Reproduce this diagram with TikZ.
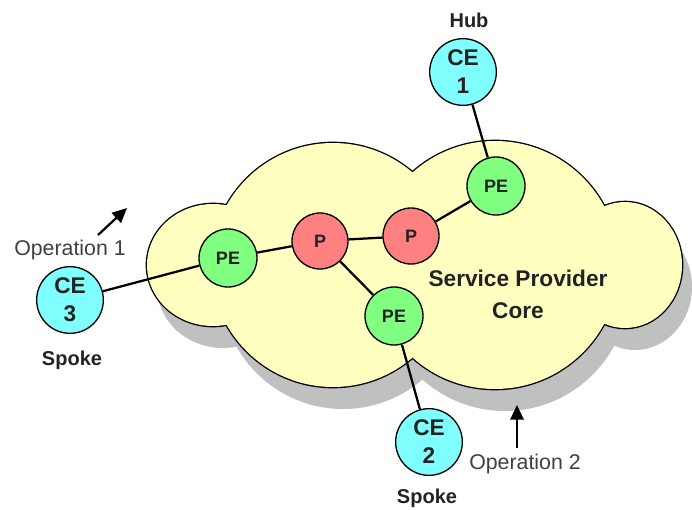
\documentclass[tikz,border=0pt]{standalone}
\usepackage{fontspec}
\setmainfont{Liberation Sans}
\usetikzlibrary{arrows.meta}
\definecolor{cloudfill}{HTML}{FFFFC0}
\definecolor{shadowgray}{HTML}{C0C0C0}
\definecolor{cefill}{HTML}{80FFFF}
\definecolor{pefill}{HTML}{80FF80}
\definecolor{pfill}{HTML}{FF8080}
\definecolor{txt}{HTML}{222222}
\definecolor{opgray}{HTML}{404040}
\newcommand\cloudshapes{(213,265) ellipse [x radius=49.5pt, y radius=45.75pt]
  (333,265) circle [radius=91.5pt]
  (495,265) circle [radius=93pt]
  (625,265) ellipse [x radius=42.75pt, y radius=47.25pt]}
\begin{document}
\begin{tikzpicture}[x=0.75pt,y=-0.75pt,
  dev/.style={circle, draw=black, line width=1pt, inner sep=0pt, text=txt,
    font=\bfseries\fontsize{13.5}{15}\selectfont},
  ce/.style={dev, fill=cefill, minimum size=50pt, align=center,
    font=\bfseries\fontsize{17}{21}\selectfont},
  pe/.style={dev, fill=pefill, minimum size=43.5pt},
  pr/.style={dev, fill=pfill, minimum size=42pt},
  link/.style={line width=1.7pt},
  lbl/.style={text=txt, font=\bfseries\fontsize{15}{18}\selectfont},
  core/.style={text=txt, align=center, font=\bfseries\fontsize{17}{24}\selectfont},
  op/.style={text=opgray, font=\fontsize{16}{19}\selectfont},
  oparrow/.style={line width=1.7pt, -{Triangle[length=11pt,width=10pt]}}
]
\useasboundingbox (0,0) rectangle (692,510);
% cloud with shadow
\fill[shadowgray, shift={(10,22)}] \cloudshapes;
\draw[line width=2pt, fill=cloudfill] \cloudshapes;
\fill[cloudfill] \cloudshapes;
\node[core] (spc) at (518,294) {Service Provider\\Core};
% devices
\node[ce] (ce1) at (463,72) {CE\\1};
\node[ce] (ce3) at (70,300) {CE\\3};
\node[ce] (ce2) at (429,442) {CE\\2};
\node[pe] (pel) at (228,258) {PE};
\node[pr] (p1) at (320,241) {P};
\node[pr] (p2) at (411,236) {P};
\node[pe] (peb) at (394,316) {PE};
\node[pe] (pet) at (496,186) {PE};
% links
\draw[link] (ce3) -- (pel);
\draw[link] (pel) -- (p1);
\draw[link] (p1) -- (p2);
\draw[link] (p2) -- (pet);
\draw[link] (pet) -- (ce1);
\draw[link] (p1) -- (peb);
\draw[link] (peb) -- (ce2);
% labels
\node[lbl] (hub) at (469,20) {Hub};
\node[lbl] (sp3) at (72,360) {Spoke};
\node[lbl] (sp2) at (427,498) {Spoke};
\node[op] (op1) at (70,250) {Operation 1};
\node[op] (op2) at (525,464) {Operation 2};
\coordinate (o1s) at (98,235);
\coordinate (o1e) at (127,208);
\coordinate (o2s) at (517,448);
\coordinate (o2e) at (517,405);
\draw[oparrow] (o1s) -- (o1e);
\draw[oparrow] (o2s) -- (o2e);
\end{tikzpicture}
\end{document}
